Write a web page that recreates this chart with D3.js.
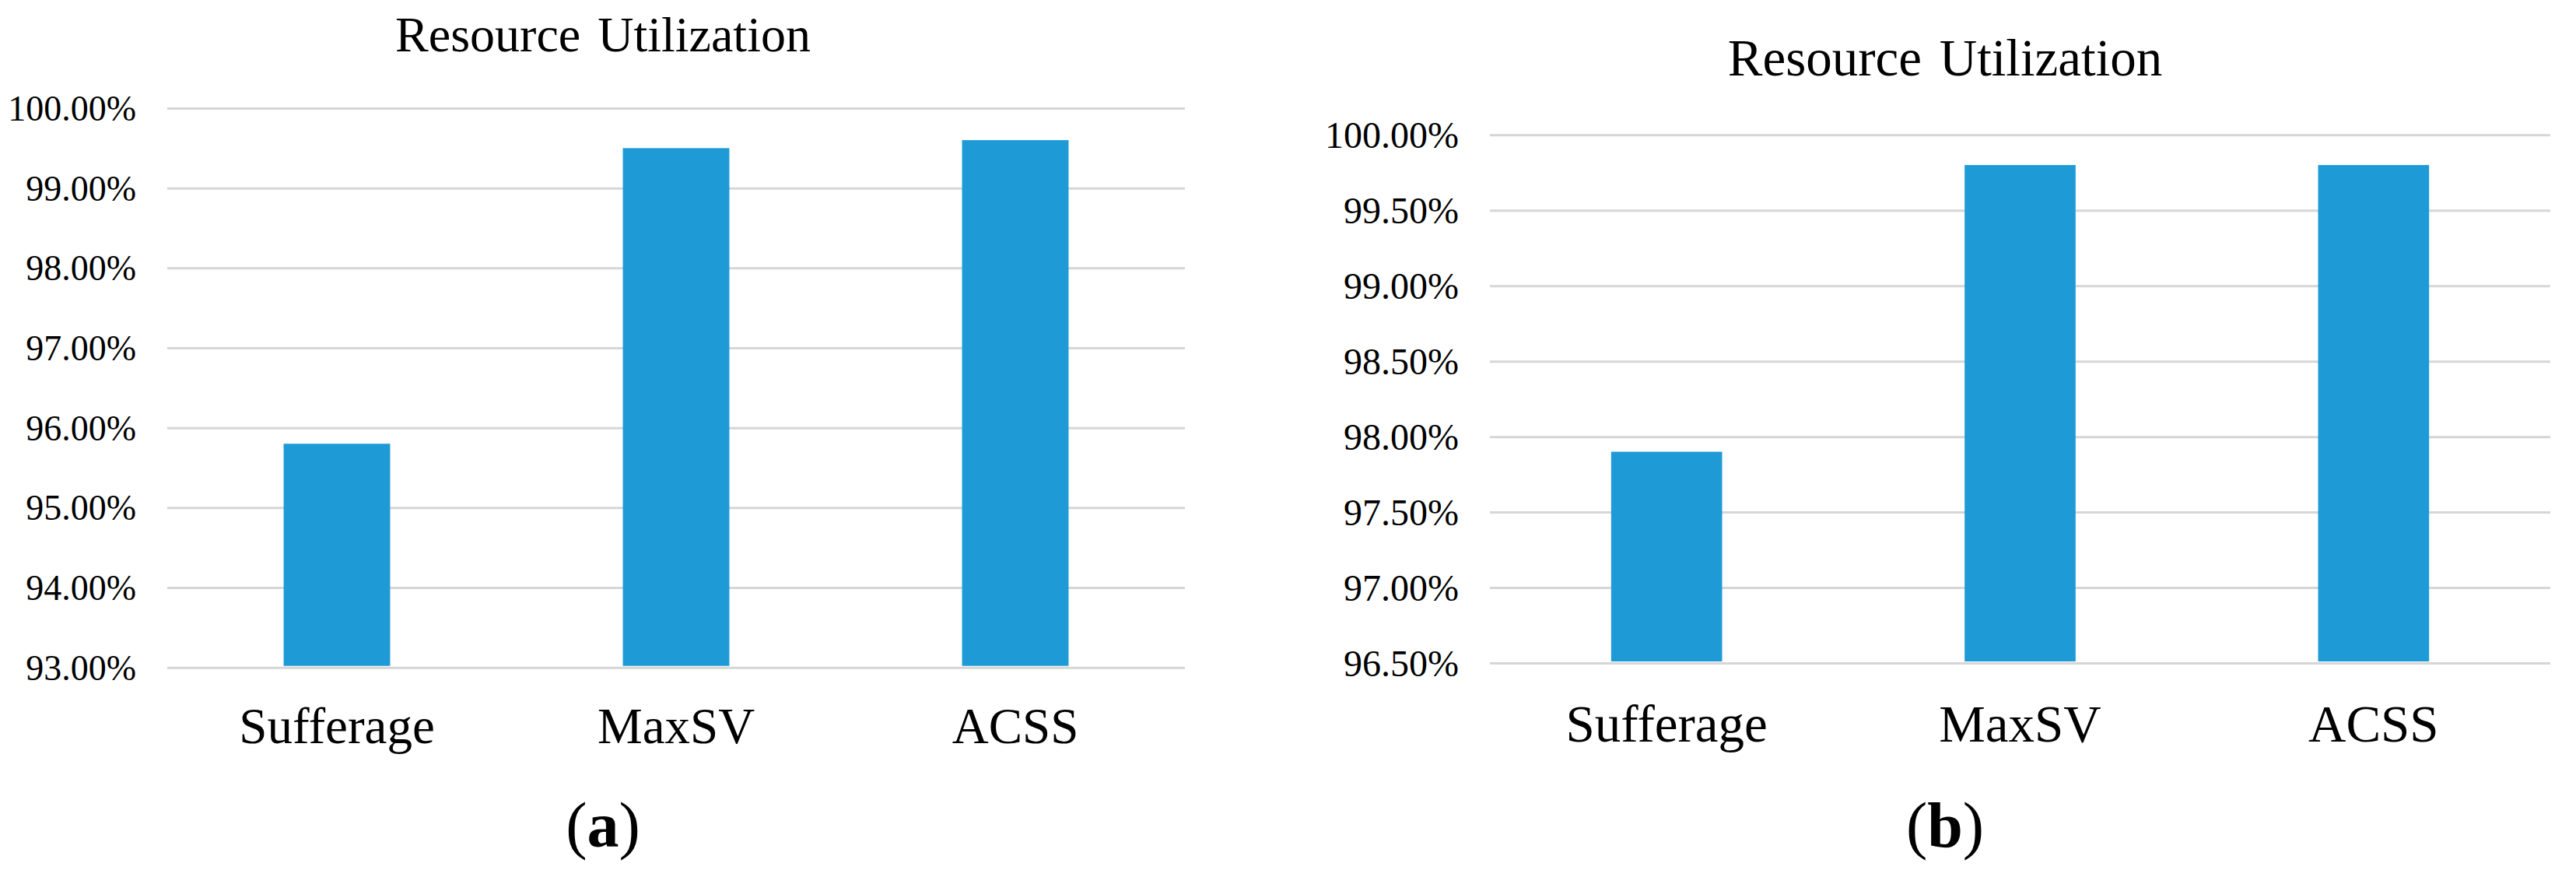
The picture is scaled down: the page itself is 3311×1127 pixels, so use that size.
<!DOCTYPE html>
<html>
<head>
<meta charset="utf-8">
<script src="https://cdn.jsdelivr.net/npm/d3@7"></script>
<style>
  body { margin: 0; background: #fff; }
  svg { display: block; }
  svg text { font-family: "Liberation Serif", "Times New Roman", serif !important; fill: #000; }
</style>
</head>
<body>
<svg width="3311" height="1127"></svg>
<script>
(function (d3) {
  'use strict';

  // data
  const categories = ['Sufferage', 'MaxSV', 'ACSS'];
  const utilizationA = [95.8, 99.5, 99.6];
  const utilizationB = [97.9, 99.8, 99.8];
  const ticksA = [93, 94, 95, 96, 97, 98, 99, 100];
  const ticksB = [96.5, 97, 97.5, 98, 98.5, 99, 99.5, 100];

  const serif = '"Liberation Serif", "Times New Roman", serif';
  const svg = d3.select('svg');
  const fmt = v => d3.format('.2f')(v) + '%';

  function panel(opts) {
    const g = svg.append('g');

    const x = d3.scaleBand()
      .domain(categories)
      .range([opts.left, opts.right])
      .paddingInner(0.686)
      .paddingOuter(0.343);

    const y = d3.scaleLinear()
      .domain([opts.ticks[0], opts.ticks[opts.ticks.length - 1]])
      .range([opts.bottom, opts.top]);

    // gridlines + tick labels
    const yAxis = g.append('g')
      .attr('transform', `translate(${opts.left},0)`)
      .call(d3.axisLeft(y)
        .tickValues(opts.ticks)
        .tickFormat(fmt)
        .tickSizeInner(-(opts.right - opts.left))
        .tickSizeOuter(0)
        .tickPadding(40))
      .attr('font-family', serif)
      .attr('font-size', opts.tickSize);
    yAxis.select('.domain').remove();
    yAxis.selectAll('.tick line')
      .attr('stroke', '#d6d6d6')
      .attr('stroke-width', 3);
    yAxis.selectAll('.tick text')
      .attr('fill', '#000')
      .attr('dy', '0.34em');

    // bars
    g.append('g')
      .selectAll('rect')
      .data(opts.values)
      .join('rect')
        .attr('x', (d, i) => x(categories[i]))
        .attr('width', x.bandwidth())
        .attr('y', d => y(d))
        .attr('height', d => y.range()[0] - 2 - y(d))
        .attr('fill', '#1e9bd7');

    // category labels
    const xAxis = g.append('g')
      .attr('transform', `translate(0,${opts.bottom})`)
      .call(d3.axisBottom(x).tickSize(0))
      .attr('font-family', serif)
      .attr('font-size', opts.catSize);
    xAxis.select('.domain').remove();
    xAxis.selectAll('.tick text')
      .attr('fill', '#000')
      .attr('y', opts.catBaseline - opts.bottom)
      .attr('dy', 0);

    // title
    g.append('text')
      .attr('x', opts.titleX)
      .attr('y', opts.titleY)
      .attr('text-anchor', 'middle')
      .attr('font-size', opts.titleSize)
      .attr('word-spacing', 6)
      .text('Resource Utilization');

    // panel letter
    const lab = g.append('text')
      .attr('x', opts.titleX)
      .attr('y', 1088)
      .attr('text-anchor', 'middle')
      .attr('font-size', 82);
    lab.append('tspan').text('(');
    lab.append('tspan').attr('font-weight', 'bold').text(opts.letter);
    lab.append('tspan').text(')');
  }

  panel({
    values: utilizationA, ticks: ticksA, letter: 'a',
    left: 215, right: 1523, top: 139, bottom: 857.7,
    tickSize: 46, catSize: 65, catBaseline: 955,
    titleX: 775, titleY: 66, titleSize: 64
  });

  panel({
    values: utilizationB, ticks: ticksB, letter: 'b',
    left: 1915, right: 3278, top: 173.3, bottom: 852,
    tickSize: 48, catSize: 67, catBaseline: 953,
    titleX: 2500, titleY: 97, titleSize: 67
  });

}(d3));
</script>
</body>
</html>
